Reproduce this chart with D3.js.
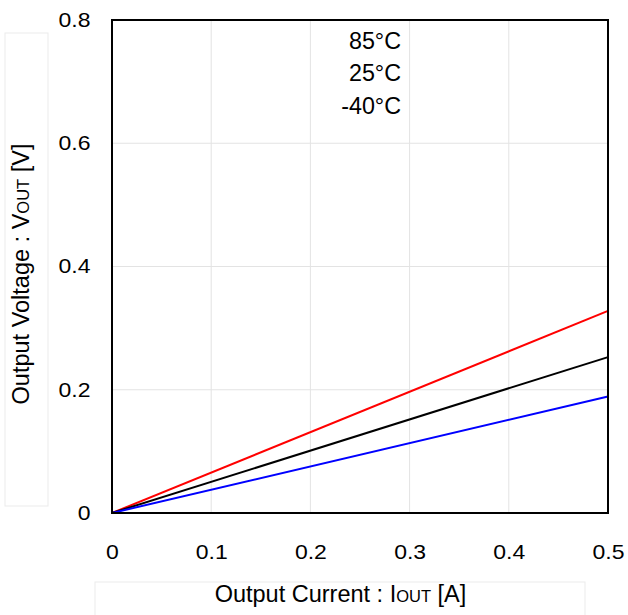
<!DOCTYPE html>
<html><head><meta charset="utf-8">
<script src="https://cdn.jsdelivr.net/npm/d3@7"></script>
<style>body{margin:0;background:#fff}svg{display:block}text{font-family:"Liberation Sans",Arial,sans-serif;fill:#000}</style>
</head><body>
<svg id="c" width="628" height="615"></svg>
<script>
const currentA = [0, 0.5];
const v85 = [0, 0.328];
const v25 = [0, 0.253];
const vm40 = [0, 0.189];
const seriesNames = ["85°C", "25°C", "-40°C"];
const seriesColors = ["#ff0000", "#000000", "#0000ff"];
const xTicks = [0, 0.1, 0.2, 0.3, 0.4, 0.5];
const yTicks = [0, 0.2, 0.4, 0.6, 0.8];

const svg = d3.select("#c");
const L = 112, R = 608, T = 20, B = 513;
const x = d3.scaleLinear().domain([0, 0.5]).range([L, R]);
const y = d3.scaleLinear().domain([0, 0.8]).range([B, T]);
const fmt = d => d === 0 ? "0" : d3.format(".1f")(d);

// grid
const g = svg.append("g");
g.selectAll(".gx").data(xTicks.slice(1, -1)).join("line")
  .attr("x1", d => x(d)).attr("x2", d => x(d)).attr("y1", T).attr("y2", B)
  .attr("stroke", "#e3e3e3").attr("stroke-width", 1);
g.selectAll(".gy").data(yTicks.slice(1, -1)).join("line")
  .attr("x1", L).attr("x2", R).attr("y1", d => y(d)).attr("y2", d => y(d))
  .attr("stroke", "#e3e3e3").attr("stroke-width", 1);

// axes (labels only)
const xAxis = svg.append("g").attr("transform", `translate(0,${B})`)
  .call(d3.axisBottom(x).tickValues(xTicks).tickFormat(fmt).tickSize(0).tickPadding(32));
xAxis.select(".domain").remove();
xAxis.selectAll("text").attr("font-size", 20).attr("transform", "scale(1.15,1)")
  .style("font-family", '"Liberation Sans",Arial,sans-serif').attr("fill", "#000");

const yAxis = svg.append("g").attr("transform", `translate(${L},0)`)
  .call(d3.axisLeft(y).tickValues(yTicks).tickFormat(fmt).tickSize(0));
yAxis.select(".domain").remove();
yAxis.selectAll("text").attr("font-size", 20).attr("x", 0).attr("transform", "translate(-21.5,0) scale(1.15,1)")
  .style("font-family", '"Liberation Sans",Arial,sans-serif').attr("fill", "#000");

// series
const series = [v85, v25, vm40];
const line = d3.line().x(d => x(d[0])).y(d => y(d[1]));
series.forEach((vals, i) => {
  svg.append("path").datum(currentA.map((c, j) => [c, vals[j]]))
    .attr("d", line).attr("fill", "none").attr("stroke", seriesColors[i]).attr("stroke-width", 2);
});

// frame
svg.append("rect").attr("x", L).attr("y", T).attr("width", R - L).attr("height", B - T)
  .attr("fill", "none").attr("stroke", "#000").attr("stroke-width", 2);

// legend text
svg.selectAll(".lg").data(seriesNames).join("text")
  .attr("x", 401).attr("y", (d, i) => 48.5 + i * 32.5).attr("text-anchor", "end")
  .attr("font-size", 23.3).text(d => d);

// y label box
svg.append("rect").attr("x", 5).attr("y", 33).attr("width", 43).attr("height", 473)
  .attr("fill", "#fff").attr("stroke", "#ebebeb").attr("stroke-width", 1);
const yl = svg.append("text").attr("transform", "translate(29,274) rotate(-90)")
  .attr("text-anchor", "middle").attr("font-size", 23.5);
yl.append("tspan").text("Output Voltage : V");
yl.append("tspan").attr("font-size", 16.5).text("OUT");
yl.append("tspan").text(" [V]");

// x label box
svg.append("rect").attr("x", 95).attr("y", 582).attr("width", 490).attr("height", 40)
  .attr("fill", "#fff").attr("stroke", "#ebebeb").attr("stroke-width", 1);
const xl = svg.append("text").attr("x", 340.5).attr("y", 602)
  .attr("text-anchor", "middle").attr("font-size", 23.5);
xl.append("tspan").text("Output Current : I");
xl.append("tspan").attr("font-size", 16.5).text("OUT");
xl.append("tspan").text(" [A]");
</script>
</body></html>
